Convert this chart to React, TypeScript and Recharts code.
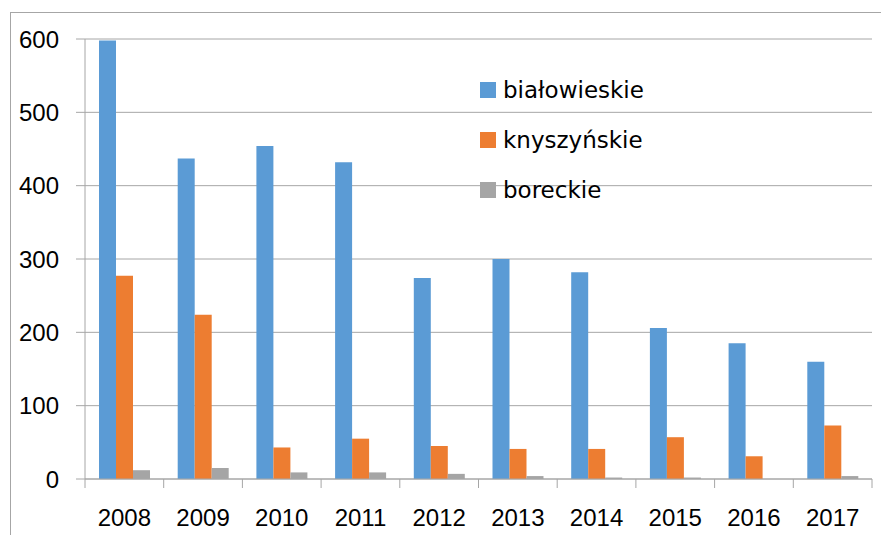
import React from 'react';
import { BarChart, Bar, XAxis, YAxis, CartesianGrid } from 'recharts';

const years = ['2008', '2009', '2010', '2011', '2012', '2013', '2014', '2015', '2016', '2017'];
const bialowieskie = [598, 437, 454, 432, 274, 300, 282, 206, 185, 160];
const knyszynskie = [277, 224, 43, 55, 45, 41, 41, 57, 31, 73];
const boreckie = [12, 15, 9, 9, 7, 4, 2, 2, 0, 4];
const yTicks = [0, 100, 200, 300, 400, 500, 600];

const seriesNames = ['białowieskie', 'knyszyńskie', 'boreckie'];
const colors = ['#5B9BD5', '#ED7D31', '#A5A5A5'];

const data = years.map((y, i) => ({
  year: y,
  b: bialowieskie[i],
  k: knyszynskie[i],
  r: boreckie[i],
}));

const AXIS_COLOR = '#a6a6a6';

const XTick = (props: any) => {
  const { x, y, payload, index, visibleTicksCount } = props;
  const off = payload && payload.offset ? payload.offset : 39.35;
  const last = index === (visibleTicksCount ?? years.length) - 1;
  return (
    <g>
      <line x1={x - off} y1={y} x2={x - off} y2={y + 9} stroke={AXIS_COLOR} strokeWidth={1} />
      {last && <line x1={x + off} y1={y} x2={x + off} y2={y + 9} stroke={AXIS_COLOR} strokeWidth={1} />}
      <text x={x} y={y + 47} textAnchor="middle" fill="#000" fontSize={24} fontFamily="Liberation Sans">
        {payload.value}
      </text>
    </g>
  );
};

const LegendBox = () => (
  <div style={{ position: 'absolute', left: 480, top: 78 }}>
    {seriesNames.map((n, i) => (
      <div key={n} style={{ position: 'absolute', left: 0, top: i * 50, height: 24, display: 'flex', alignItems: 'center', whiteSpace: 'nowrap' }}>
        <div style={{ width: 16, height: 16, background: colors[i], marginRight: 7 }} />
        <span style={{ fontFamily: 'DejaVu Sans', fontSize: 23, color: '#000' }}>{n}</span>
      </div>
    ))}
  </div>
);

export default function App() {
  return (
    <div style={{ position: 'absolute', left: 0, top: 0, width: 881, height: 535, overflow: 'hidden', background: '#fff' }}>
      <div style={{ position: 'absolute', left: 10, top: 12, width: 1000, height: 1000, borderTop: '1px solid #a6a6a6', borderLeft: '1px solid #a6a6a6' }} />
      <div style={{ position: 'absolute', left: 0, top: 0 }}>
        <BarChart
          width={881}
          height={535}
          data={data}
          margin={{ top: 39, right: 9, left: 25, bottom: 16 }}
          barGap={0}
          barSize={17}
        >
          <CartesianGrid vertical={false} stroke={AXIS_COLOR} strokeWidth={1} />
          <XAxis
            dataKey="year"
            height={40}
            tickLine={false}
            tickSize={0}
            tickMargin={0}
            axisLine={{ stroke: AXIS_COLOR }}
            tick={<XTick />}
            interval={0}
          />
          <YAxis
            width={60}
            domain={[0, 600]}
            ticks={yTicks}
            interval={0}
            tickSize={9}
            tickMargin={17}
            tickLine={{ stroke: AXIS_COLOR }}
            axisLine={{ stroke: AXIS_COLOR }}
            tick={{ fill: '#000', fontSize: 24, fontFamily: 'Liberation Sans' }}
          />
          <Bar dataKey="b" name={seriesNames[0]} fill={colors[0]} isAnimationActive={false} />
          <Bar dataKey="k" name={seriesNames[1]} fill={colors[1]} isAnimationActive={false} />
          <Bar dataKey="r" name={seriesNames[2]} fill={colors[2]} isAnimationActive={false} />
        </BarChart>
      </div>
      <LegendBox />
    </div>
  );
}
